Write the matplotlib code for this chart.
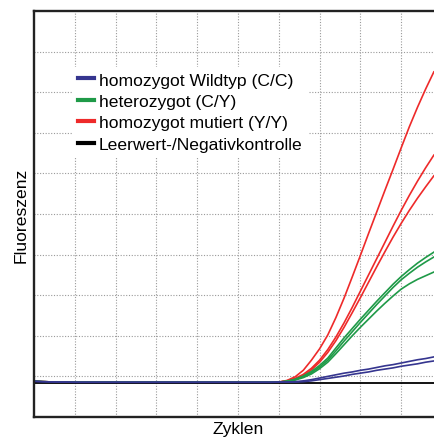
import numpy as np
import matplotlib
matplotlib.use("Agg")
import matplotlib.pyplot as plt

plt.rcParams["font.family"] = ["Liberation Sans", "DejaVu Sans"]

cycles = np.arange(0, 50)

# flat phase shared by all samples, cycles 0..29
baseline = [0.88, 0.87, 0.865, 0.86, 0.86, 0.855, 0.855, 0.855, 0.855, 0.855,
            0.855, 0.855, 0.855, 0.855, 0.855, 0.855, 0.855, 0.855, 0.855, 0.855,
            0.855, 0.855, 0.855, 0.855, 0.855, 0.855, 0.855, 0.855, 0.855, 0.855]

# cycles 30..49
wildtype_tails = [
    [0.86, 0.86, 0.87, 0.89, 0.92, 0.96, 1.00, 1.04, 1.08, 1.11,
     1.15, 1.18, 1.22, 1.26, 1.29, 1.33, 1.37, 1.41, 1.44, 1.48],
    [0.86, 0.86, 0.86, 0.87, 0.89, 0.92, 0.95, 0.98, 1.01, 1.05,
     1.08, 1.11, 1.15, 1.18, 1.21, 1.25, 1.28, 1.31, 1.35, 1.38],
]
hetero_tails = [
    [0.86, 0.88, 0.93, 1.01, 1.12, 1.27, 1.45, 1.70, 1.95, 2.18,
     2.41, 2.63, 2.85, 3.06, 3.27, 3.46, 3.63, 3.79, 3.93, 4.06],
    [0.86, 0.88, 0.92, 0.99, 1.09, 1.23, 1.40, 1.63, 1.87, 2.10,
     2.33, 2.55, 2.77, 2.98, 3.19, 3.38, 3.54, 3.69, 3.82, 3.94],
    [0.86, 0.88, 0.91, 0.97, 1.06, 1.19, 1.35, 1.56, 1.78, 2.00,
     2.21, 2.41, 2.61, 2.80, 2.98, 3.15, 3.28, 3.39, 3.48, 3.57],
]
mutant_tails = [
    [0.86, 0.90, 0.99, 1.15, 1.40, 1.68, 2.02, 2.45, 2.93, 3.45,
     3.98, 4.52, 5.05, 5.58, 6.10, 6.63, 7.15, 7.63, 8.08, 8.50],
    [0.86, 0.89, 0.95, 1.05, 1.20, 1.40, 1.66, 1.97, 2.32, 2.70,
     3.10, 3.50, 3.90, 4.30, 4.70, 5.09, 5.46, 5.81, 6.14, 6.45],
    [0.86, 0.88, 0.93, 1.02, 1.16, 1.35, 1.59, 1.88, 2.21, 2.57,
     2.94, 3.32, 3.70, 4.07, 4.43, 4.77, 5.09, 5.39, 5.67, 5.94],
]
blank_level = 0.83

labels = ["homozygot Wildtyp (C/C)", "heterozygot (C/Y)",
          "homozygot mutiert (Y/Y)", "Leerwert-/Negativkontrolle"]
colours = ["#35358f", "#1f9a48", "#ee2a2a", "#000000"]

fig = plt.figure(figsize=(4.34, 4.39), dpi=100)
ax = fig.add_axes([34 / 434, 21 / 439, 408 / 434, 406 / 439])

for tail in mutant_tails:
    ax.plot(cycles, baseline + tail, color=colours[2], lw=1.2)
for tail in hetero_tails:
    ax.plot(cycles, baseline + tail, color=colours[1], lw=1.2)
ax.plot(cycles, [blank_level] * len(cycles), color=colours[3], lw=1.3)
for tail in wildtype_tails:
    ax.plot(cycles, baseline + tail, color=colours[0], lw=1.2)

ax.set_xlim(0, 50)
ax.set_ylim(0, 10)
ax.set_xticks(np.arange(5, 50, 5))
ax.set_yticks(np.arange(1, 10, 1))
ax.tick_params(length=0, labelleft=False, labelbottom=False)
ax.grid(True, linestyle=(0, (1, 1.5)), color="#9a9a9a", linewidth=0.8)
ax.spines["right"].set_visible(False)
for side in ["left", "top", "bottom"]:
    ax.spines[side].set_linewidth(1.7)
    ax.spines[side].set_color("#222222")

ax.set_xlabel("Zyklen", fontsize=12.6, labelpad=3)
ax.set_ylabel("Fluoreszenz", fontsize=12.6, labelpad=4)

handles = [plt.Line2D([], [], color=c, lw=3) for c in colours]
leg = ax.legend(handles, labels, loc="upper left", bbox_to_anchor=(0.094, 0.862),
                borderaxespad=0, borderpad=0.3, fontsize=12.6, frameon=True,
                fancybox=False, edgecolor="none", facecolor="white", framealpha=1,
                handlelength=0.92, handletextpad=0.3, labelspacing=0.35)

fig.savefig("out.png", dpi=100)
